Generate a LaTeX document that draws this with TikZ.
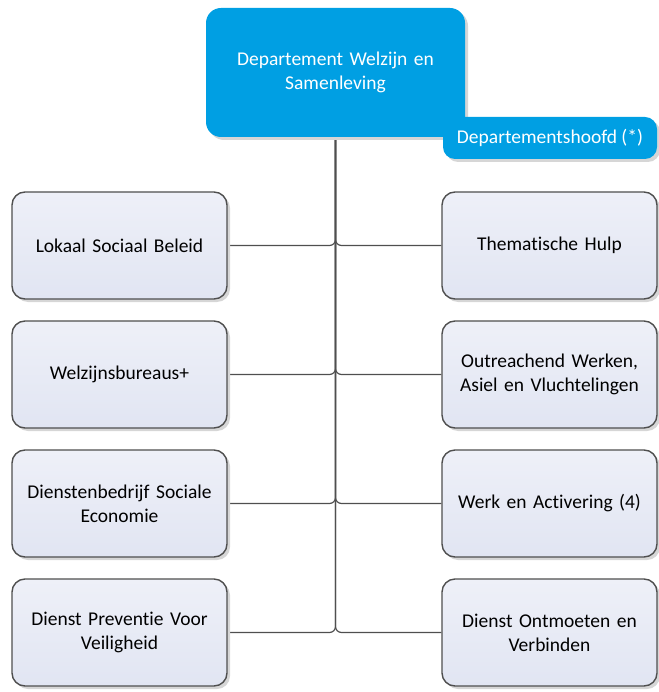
\documentclass[tikz,border=0pt]{standalone}
\usepackage{fontspec}
\setmainfont{Carlito}[Ligatures=NoCommon]
\usetikzlibrary{shadows,backgrounds}
\definecolor{deptblue}{HTML}{009FE3}
\definecolor{boxtop}{HTML}{EEF0F8}
\definecolor{boxbot}{HTML}{E1E5F2}
\definecolor{boxline}{HTML}{4F4F4F}
\definecolor{shadowgray}{HTML}{D6D6D6}
\begin{document}
\begin{tikzpicture}[x=1pt,y=-1pt,
  myshadow/.style={drop shadow={shadow xshift=3pt, shadow yshift=-3pt, fill=shadowgray, opacity=1}},
  unitbox/.style={draw=boxline, line width=1.4pt, top color=boxtop, bottom color=boxbot,
    rounded corners=13pt, minimum width=215pt, minimum height=107pt, text width=205pt,
    align=center, font=\fontsize{19.5}{24}\selectfont, inner sep=0pt, myshadow},
  topbox/.style={fill=deptblue, rounded corners=15pt, minimum width=259pt, minimum height=129pt,
    text width=245pt, align=center, text=white, font=\fontsize{19.5}{24}\selectfont, inner sep=0pt, myshadow},
  headbox/.style={fill=deptblue, rounded corners=12pt, minimum width=214pt, minimum height=42pt,
    align=center, text=white, font=\fontsize{19.5}{24}\selectfont, inner sep=0pt, myshadow},
  conn/.style={draw=boxline, line width=1.2pt, rounded corners=6pt}]
\useasboundingbox (0,0) rectangle (658,692);
\node[topbox] (top) at (335.5,72.5) {Departement Welzijn en\\Samenleving};
\node[headbox] (hoofd) at (550,138) {Departementshoofd (*)};
\node[unitbox] (l1) at (119.5,245.5) {Lokaal Sociaal Beleid};
\node[unitbox] (l2) at (119.5,374.5) {Welzijnsbureaus+};
\node[unitbox] (l3) at (119.5,503.5) {Dienstenbedrijf Sociale\\Economie};
\node[unitbox] (l4) at (119.5,632.5) {Dienst Preventie Voor\\Veiligheid};
\node[unitbox] (r1) at (549.5,245.5) {Thematische Hulp};
\node[unitbox] (r2) at (549.5,374.5) {Outreachend Werken,\\Asiel en Vluchtelingen};
\node[unitbox] (r3) at (549.5,503.5) {Werk en Activering (4)};
\node[unitbox] (r4) at (549.5,632.5) {Dienst Ontmoeten en\\Verbinden};
\begin{scope}[on background layer]
\foreach \b in {l1,l2,l3,l4,r1,r2,r3,r4}
  \draw[conn] (top.south) |- (\b);
\end{scope}
\end{tikzpicture}
\end{document}
